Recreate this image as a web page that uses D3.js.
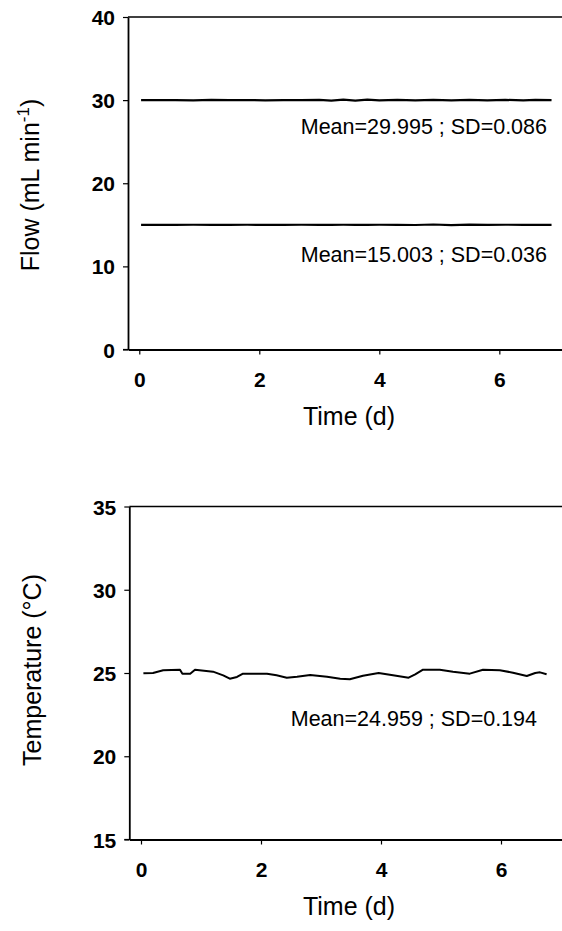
<!DOCTYPE html>
<html>
<head>
<meta charset="utf-8">
<script src="https://cdn.jsdelivr.net/npm/d3@7"></script>
<style>
  html, body { margin: 0; padding: 0; background: #fff; }
  svg text { font-family: "Liberation Sans", Arial, sans-serif; fill: #000; }
</style>
</head>
<body>
<svg id="chart" width="562" height="931"></svg>
<script>
// time (days) for the flow traces
const flowTime = [0.03, 0.3, 0.6, 0.9, 1.2, 1.5, 1.8, 2.1, 2.4, 2.7, 3.0, 3.2, 3.4, 3.6, 3.8, 4.0, 4.3, 4.6, 4.9, 5.2, 5.5, 5.8, 6.1, 6.4, 6.6, 6.87];
const flowHigh = [30.0, 29.99, 30.01, 29.98, 30.02, 29.99, 30.0, 29.98, 30.01, 29.99, 30.04, 29.95, 30.07, 29.94, 30.05, 29.97, 30.02, 29.98, 30.03, 29.97, 30.02, 29.98, 30.03, 29.96, 30.02, 29.99];
const flowLow  = [15.0, 15.0, 14.99, 15.01, 14.99, 15.0, 15.01, 14.99, 15.0, 15.01, 14.99, 15.0, 15.01, 15.0, 14.99, 15.01, 15.0, 14.98, 15.04, 14.97, 15.02, 14.99, 15.01, 15.0, 14.99, 15.0];

// temperature trace
const tempTime = [0.04, 0.2, 0.37, 0.65, 0.69, 0.82, 0.9, 1.2, 1.37, 1.48, 1.6, 1.7, 2.1, 2.26, 2.43, 2.6, 2.82, 3.1, 3.32, 3.48, 3.7, 3.96, 4.2, 4.46, 4.57, 4.7, 4.98, 5.2, 5.48, 5.7, 5.98, 6.2, 6.43, 6.57, 6.65, 6.76];
const tempVals = [24.98, 25.0, 25.16, 25.2, 24.96, 24.96, 25.2, 25.08, 24.86, 24.66, 24.76, 24.96, 24.96, 24.86, 24.72, 24.78, 24.88, 24.78, 24.66, 24.62, 24.84, 25.0, 24.86, 24.72, 24.92, 25.2, 25.2, 25.08, 24.96, 25.2, 25.16, 25.02, 24.82, 25.0, 25.04, 24.92];

const timeTicks = [0, 2, 4, 6];
const flowTicks = [0, 10, 20, 30, 40];
const tempTicks = [15, 20, 25, 30, 35];

const flowNotes = ["Mean=29.995 ; SD=0.086", "Mean=15.003 ; SD=0.036"];
const tempNote = "Mean=24.959 ; SD=0.194";

const svg = d3.select("#chart");

function drawPanel(opt) {
  const g = svg.append("g");
  const x = opt.x, y = opt.y;
  const x0 = x.range()[0], x1 = x.range()[1];
  const yTop = y.range()[1], yBot = y.range()[0];

  // frame top line
  g.append("line")
    .attr("x1", x0).attr("x2", x1)
    .attr("y1", yTop).attr("y2", yTop)
    .attr("stroke", "#000").attr("stroke-width", 1.6);

  const xAxis = g.append("g")
    .attr("transform", `translate(0,${yBot})`)
    .call(d3.axisBottom(x).tickValues(timeTicks).tickSize(5).tickSizeOuter(0));
  xAxis.select(".domain").attr("stroke-width", 1.8);
  xAxis.selectAll(".tick line").attr("stroke-width", 1.2);
  xAxis.selectAll("text")
    .attr("y", 37).attr("dy", null)
    .attr("font-size", 21).attr("font-weight", "bold")
    .attr("font-family", null);

  const yAxis = g.append("g")
    .attr("transform", `translate(${x0},0)`)
    .call(d3.axisLeft(y).tickValues(opt.yTicks).tickSize(5).tickPadding(8).tickSizeOuter(0));
  yAxis.select(".domain").attr("stroke-width", 1.8);
  yAxis.selectAll(".tick line").attr("stroke-width", 1.2);
  yAxis.selectAll("text")
    .attr("dy", "0.36em")
    .attr("font-size", 21).attr("font-weight", "bold")
    .attr("font-family", null);

  // extend bottom axis line a little to the left, like the original
  g.append("line")
    .attr("x1", x0 - 5).attr("x2", x0)
    .attr("y1", yBot).attr("y2", yBot)
    .attr("stroke", "#000").attr("stroke-width", 1.2);

  g.append("text")
    .attr("x", 349).attr("y", yBot + 75)
    .attr("text-anchor", "middle")
    .attr("font-size", 25)
    .text("Time (d)");

  return g;
}

// ---- top panel: flow ----
const xTop = d3.scaleLinear().domain([-0.188, 7.186]).range([128, 570.5]);
const yFlow = d3.scaleLinear().domain([0, 40]).range([349.5, 17]);
const gTop = drawPanel({ x: xTop, y: yFlow, yTicks: flowTicks });

const flowLine = d3.line().x(d => xTop(d[0])).y(d => yFlow(d[1]));
[flowHigh, flowLow].forEach(vals => {
  gTop.append("path")
    .datum(flowTime.map((t, i) => [t, vals[i]]))
    .attr("fill", "none").attr("stroke", "#000")
    .attr("stroke-width", 2.2)
    .attr("d", flowLine);
});

gTop.append("text").attr("x", 547).attr("y", 133.5)
  .attr("text-anchor", "end").attr("font-size", 21.5).text(flowNotes[0]);
gTop.append("text").attr("x", 547).attr("y", 261.5)
  .attr("text-anchor", "end").attr("font-size", 21.5).text(flowNotes[1]);

const flowLabel = gTop.append("text")
  .attr("transform", "translate(39,185) rotate(-90)")
  .attr("text-anchor", "middle")
  .attr("font-size", 25);
flowLabel.append("tspan").text("Flow (mL min");
flowLabel.append("tspan").attr("dy", -10).attr("font-size", 17).text("-1");
flowLabel.append("tspan").attr("dy", 10).text(")");

// ---- bottom panel: temperature ----
const xBot = d3.scaleLinear().domain([-0.195, 7.19]).range([129.3, 572.4]);
const yTemp = d3.scaleLinear().domain([15, 35]).range([839.5, 506.5]);
const gBot = drawPanel({ x: xBot, y: yTemp, yTicks: tempTicks });

gBot.append("path")
  .datum(tempTime.map((t, i) => [t, tempVals[i]]))
  .attr("fill", "none").attr("stroke", "#000")
  .attr("stroke-width", 2)
  .attr("stroke-linejoin", "round")
  .attr("d", d3.line().x(d => xBot(d[0])).y(d => yTemp(d[1])));

gBot.append("text").attr("x", 537).attr("y", 726)
  .attr("text-anchor", "end").attr("font-size", 21.5).text(tempNote);

gBot.append("text")
  .attr("transform", "translate(41,670) rotate(-90)")
  .attr("text-anchor", "middle")
  .attr("font-size", 25)
  .text("Temperature (°C)");
</script>
</body>
</html>
